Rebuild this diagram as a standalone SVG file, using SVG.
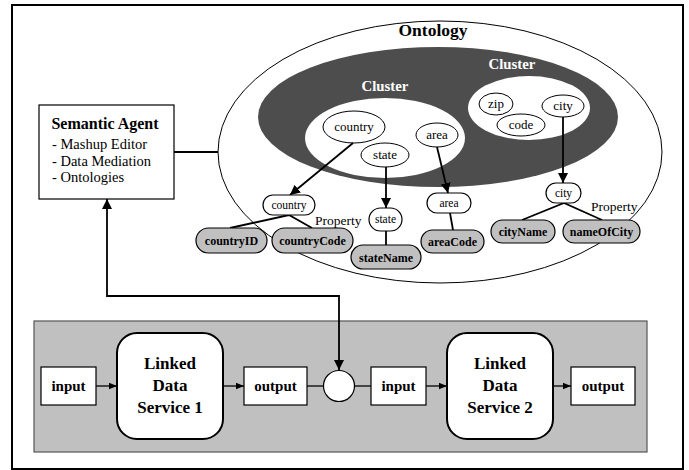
<svg xmlns="http://www.w3.org/2000/svg" width="689" height="470" viewBox="0 0 689 470">
  <defs>
    <marker id="ah" viewBox="0 0 10 10" refX="10" refY="5" markerWidth="10" markerHeight="10" markerUnits="userSpaceOnUse" orient="auto-start-reverse">
      <path d="M0,0 L10,5 L0,10 z" fill="#000"/>
    </marker>
    <marker id="ahs" viewBox="0 0 10 10" refX="10" refY="5" markerWidth="8" markerHeight="8" markerUnits="userSpaceOnUse" orient="auto">
      <path d="M0,1 L10,5 L0,9 z" fill="#000"/>
    </marker>
    <style>
      text { font-family: "Liberation Serif", "Times New Roman", serif; fill: #000; }
      .frame { fill: #fff; stroke: #000; stroke-width: 2; }
      .thin { fill: #fff; stroke: #000; stroke-width: 1; }
      .node { fill: #fff; stroke: #000; stroke-width: 1; }
      .pill { fill: #fff; stroke: #000; stroke-width: 1.2; }
      .gpill { fill: #c0c0c0; stroke: #000; stroke-width: 1.2; }
      .box { fill: #fff; stroke: #000; stroke-width: 1.2; }
      .ld { fill: #fff; stroke: #000; stroke-width: 2; }
      .edge { fill: none; stroke: #000; stroke-width: 1.8; }
      .sedge { fill: none; stroke: #000; stroke-width: 1.3; }
      .title { font-size: 17.5px; font-weight: bold; text-anchor: middle; }
      .cl { font-size: 14.8px; font-weight: bold; fill: #fff; text-anchor: middle; }
      .lbl { font-size: 13px; text-anchor: middle; }
      .sl { font-size: 11.5px; text-anchor: middle; }
      .gl { font-size: 12px; font-weight: bold; text-anchor: middle; }
      .prop { font-size: 13.5px; }
      .bl { font-size: 15px; font-weight: bold; text-anchor: middle; }
      .ldl { font-size: 17px; font-weight: bold; text-anchor: middle; }
    </style>
  </defs>

  <!-- outer frame -->
  <rect x="12" y="5" width="671" height="464" class="frame"/>

  <!-- service chain background -->
  <g id="chain">
    <rect x="34" y="321" width="613" height="131" fill="#c0c0c0" stroke="#555" stroke-width="1.2"/>
  </g>

  <!-- ontology -->
  <g id="ontology">
    <ellipse cx="440" cy="152" rx="222" ry="131" class="thin"/>
    <text x="433" y="36" class="title">Ontology</text>
    <ellipse cx="438" cy="117" rx="180" ry="70" fill="#4d4d4d"/>
  </g>

  <g id="cluster-1">
    <ellipse cx="385" cy="138" rx="80" ry="40" fill="#fff"/>
    <text x="385" y="91" class="cl">Cluster</text>
  </g>
  <g id="cluster-2">
    <ellipse cx="529" cy="108" rx="61" ry="32" fill="#fff"/>
    <text x="512" y="69" class="cl">Cluster</text>
  </g>

  <g id="c-country"><ellipse cx="354" cy="127" rx="31" ry="16" class="node"/><text x="354" y="131" class="lbl">country</text></g>
  <g id="c-state"><ellipse cx="385" cy="155" rx="24" ry="12" class="node"/><text x="385" y="159" class="lbl">state</text></g>
  <g id="c-area"><ellipse cx="437" cy="135" rx="21" ry="12" class="node"/><text x="437" y="139" class="lbl">area</text></g>
  <g id="c-zip"><ellipse cx="496" cy="104" rx="17" ry="11" class="node"/><text x="496" y="108" class="lbl">zip</text></g>
  <g id="c-code"><ellipse cx="521" cy="125" rx="24" ry="11" class="node"/><text x="521" y="129" class="lbl">code</text></g>
  <g id="c-city"><ellipse cx="563" cy="106" rx="21" ry="11" class="node"/><text x="563" y="110" class="lbl">city</text></g>

  <!-- connectors -->
  <g id="connectors">
    <line x1="353" y1="143" x2="290" y2="195" class="edge" marker-end="url(#ah)"/>
    <line x1="386" y1="167" x2="386" y2="208" class="edge" marker-end="url(#ah)"/>
    <line x1="437" y1="147" x2="448" y2="193" class="edge" marker-end="url(#ah)"/>
    <line x1="563" y1="117" x2="563" y2="183" class="edge" marker-end="url(#ah)"/>

    <polyline points="230,228 289,215 312,228" class="edge"/>
    <line x1="386" y1="231" x2="386" y2="245" class="edge"/>
    <line x1="450" y1="213" x2="453" y2="230" class="edge"/>
    <polyline points="522,220 564,203 602,220" class="edge"/>

    <line x1="174" y1="152" x2="218" y2="152" class="edge"/>
    <polyline points="107,199 107,296 339,296 339,370" class="edge" marker-start="url(#ah)" marker-end="url(#ah)"/>

    <line x1="96" y1="386" x2="117" y2="386" class="sedge" marker-end="url(#ahs)"/>
    <line x1="223" y1="386" x2="244" y2="386" class="sedge" marker-end="url(#ahs)"/>
    <line x1="307" y1="386" x2="324" y2="386" class="sedge"/>
    <line x1="354" y1="386" x2="371" y2="386" class="sedge"/>
    <line x1="426" y1="386" x2="447" y2="386" class="sedge" marker-end="url(#ahs)"/>
    <line x1="553" y1="386" x2="571" y2="386" class="sedge" marker-end="url(#ahs)"/>
  </g>

  <!-- property nodes -->
  <g id="p-country"><rect x="263" y="195" width="52" height="20" rx="10" class="pill"/><text x="289" y="209" class="sl">country</text></g>
  <g id="p-state"><rect x="369" y="208" width="33" height="23" rx="11.5" class="pill"/><text x="385.5" y="223" class="sl">state</text></g>
  <g id="p-area"><rect x="427" y="193" width="44" height="20" rx="10" class="pill"/><text x="449" y="207" class="sl">area</text></g>
  <g id="p-city"><rect x="546" y="183" width="35" height="20" rx="10" class="pill"/><text x="563.5" y="197" class="sl">city</text></g>

  <g id="countryID"><rect x="196" y="228" width="71" height="25" rx="12.5" class="gpill"/><text x="231.5" y="245" class="gl">countryID</text></g>
  <g id="countryCode"><rect x="272" y="228" width="81" height="25" rx="12.5" class="gpill"/><text x="312.5" y="245" class="gl">countryCode</text></g>
  <g id="stateName"><rect x="351" y="245" width="70" height="24" rx="12" class="gpill"/><text x="386" y="261.5" class="gl">stateName</text></g>
  <g id="areaCode"><rect x="421" y="230" width="63" height="23" rx="11.5" class="gpill"/><text x="452.5" y="246" class="gl">areaCode</text></g>
  <g id="cityName"><rect x="491" y="220" width="64" height="23" rx="11.5" class="gpill"/><text x="523" y="236" class="gl">cityName</text></g>
  <g id="nameOfCity"><rect x="563" y="220" width="77" height="23" rx="11.5" class="gpill"/><text x="601.5" y="236" class="gl">nameOfCity</text></g>

  <text x="315" y="225" class="prop">Property</text>
  <text x="591" y="211" class="prop">Property</text>

  <!-- semantic agent -->
  <g id="semantic-agent">
    <rect x="39" y="105" width="135" height="94" class="box" stroke-width="1.5"/>
    <text x="105" y="129" font-size="16" font-weight="bold" text-anchor="middle">Semantic Agent</text>
    <text x="52" y="149" font-size="14.5">- Mashup Editor</text>
    <text x="52" y="165.5" font-size="14.5">- Data Mediation</text>
    <text x="52" y="182" font-size="14.5">- Ontologies</text>
  </g>

  <!-- service chain nodes -->
  <g id="input-1"><rect x="41" y="367" width="55" height="38" class="box"/><text x="68.5" y="391" class="bl">input</text></g>
  <g id="lds-1">
    <rect x="117" y="333" width="106" height="106" rx="20" class="ld"/>
    <text x="170" y="369" class="ldl">Linked</text>
    <text x="170" y="391" class="ldl">Data</text>
    <text x="170" y="413" class="ldl">Service 1</text>
  </g>
  <g id="output-1"><rect x="244" y="367" width="63" height="38" class="box"/><text x="275.5" y="391" class="bl">output</text></g>
  <g id="junction"><circle cx="339" cy="386" r="15.5" class="box"/></g>
  <g id="input-2"><rect x="371" y="367" width="55" height="38" class="box"/><text x="398.5" y="391" class="bl">input</text></g>
  <g id="lds-2">
    <rect x="447" y="333" width="106" height="106" rx="20" class="ld"/>
    <text x="500" y="369" class="ldl">Linked</text>
    <text x="500" y="391" class="ldl">Data</text>
    <text x="500" y="413" class="ldl">Service 2</text>
  </g>
  <g id="output-2"><rect x="571" y="367" width="64" height="38" class="box"/><text x="603" y="391" class="bl">output</text></g>
</svg>
